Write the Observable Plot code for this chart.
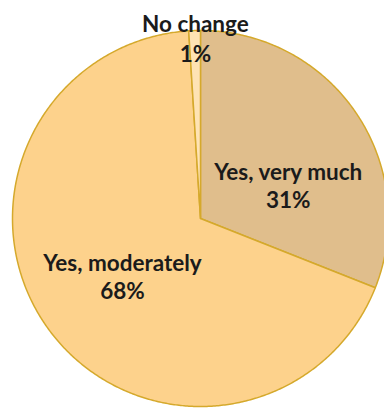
<!DOCTYPE html>
<html>
<head>
<meta charset="utf-8">
<script src="https://cdn.jsdelivr.net/npm/d3@7"></script>
<script src="https://cdn.jsdelivr.net/npm/@observablehq/plot@0.6"></script>
<style>
  html, body { margin: 0; padding: 0; background: #ffffff; }
  #chart { width: 384px; height: 408px; overflow: hidden; }
</style>
</head>
<body>
<div id="chart"></div>
<script>
// Data (clockwise from 12 o'clock)
const categories = ["Yes, very much", "Yes, moderately", "No change"];
const values = [31, 68, 1];
const labels = ["31%", "68%", "1%"];
const colors = ["#E0BE8C", "#FDD28C", "#FEE3B4"];

// Pie geometry from the data
const pie = d3.pie().sort(null).value(d => d.value).startAngle(0).endAngle(2 * Math.PI);
const arcs = pie(categories.map((c, i) => ({category: c, value: values[i], label: labels[i]})));

// Build slice outlines (unit circle coordinates) for Plot.line
const slicePoints = [];
for (const a of arcs) {
  const c = a.data.category;
  slicePoints.push({category: c, x: 0, y: 0});
  const n = Math.max(2, Math.ceil((a.endAngle - a.startAngle) / (Math.PI / 360)));
  for (let k = 0; k <= n; k++) {
    const t = a.startAngle + (a.endAngle - a.startAngle) * k / n;
    slicePoints.push({category: c, x: Math.sin(t), y: Math.cos(t)});
  }
  slicePoints.push({category: c, x: 0, y: 0});
}

// Label placement (radius as fraction of pie radius, plus pixel nudges)
const placement = {
  "Yes, very much": {r: 0.5, dx: 10, dy: 19, lh: 1.25},
  "Yes, moderately": {r: 0.5, dx: -2, dy: 2.5, lh: 1.22},
  "No change": {r: 0.95, dx: 0.5, dy: -3, lh: 1.33}
};
const labelData = arcs.map(a => {
  const m = (a.startAngle + a.endAngle) / 2;
  const p = placement[a.data.category];
  return {
    text: a.data.category + "\n" + a.data.label,
    x: p.r * Math.sin(m),
    y: p.r * Math.cos(m),
    dx: p.dx,
    dy: p.dy,
    lh: p.lh
  };
});

const chart = Plot.plot({
  width: 384,
  height: 408,
  margin: 0,
  style: {background: "#ffffff", overflow: "hidden"},
  x: {domain: [-1, 1], range: [12, 388], axis: null},
  y: {domain: [-1, 1], range: [406, 30], axis: null},
  color: {domain: categories, range: colors},
  marks: [
    Plot.line(slicePoints, {
      x: "x", y: "y", z: "category",
      fill: "category",
      stroke: "#D5A92C",
      strokeWidth: 1.5,
      strokeLinejoin: "round"
    }),
    ...labelData.map(d => Plot.text([d], {
      x: "x", y: "y", text: "text",
      dx: d.dx, dy: d.dy,
      fontFamily: "Lato, sans-serif",
      fontWeight: "bold",
      fontSize: 22.5,
      lineHeight: d.lh,
      fill: "#1b1b1b"
    }))
  ]
});
document.getElementById("chart").appendChild(chart);
</script>
</body>
</html>
